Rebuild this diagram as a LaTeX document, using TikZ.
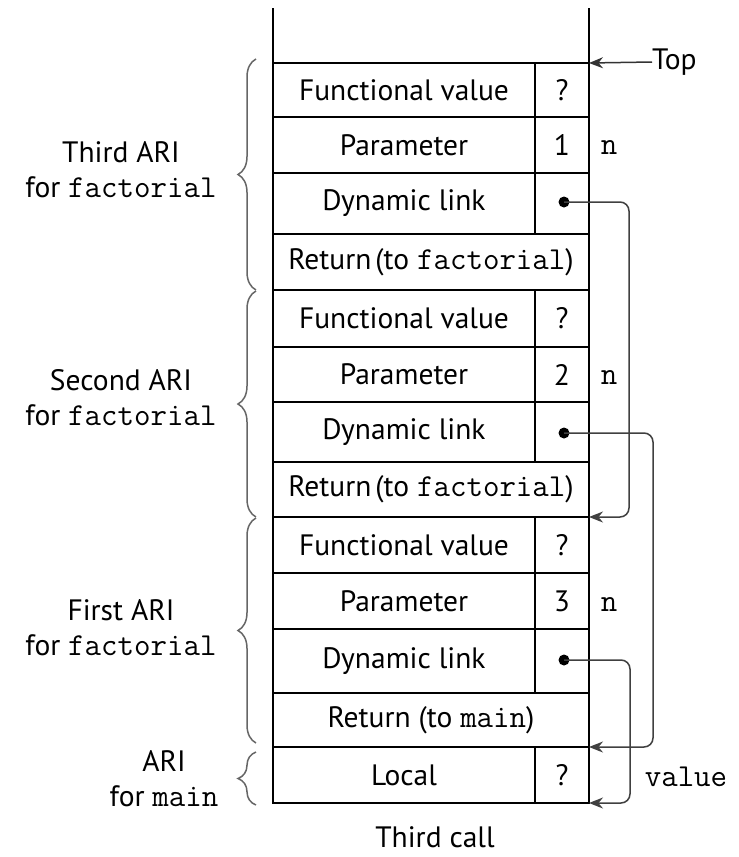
\documentclass[tikz,border=0pt]{standalone}
\usepackage{fontspec}
\setmainfont{PT Sans}
\usetikzlibrary{arrows.meta,decorations.pathreplacing}
\newcommand{\codetxt}[1]{{\fontsize{32}{35}\selectfont\ttfamily #1}}
\begin{document}
\begin{tikzpicture}[x=1pt,y=-1pt,
  font=\fontsize{29.5}{35}\selectfont,
  stackline/.style={line width=1.7pt},
  cell/.style={draw, line width=1.7pt, anchor=north west, inner sep=0pt, outer sep=0pt, minimum width=262pt},
  vcell/.style={draw, line width=1.7pt, anchor=north west, inner sep=0pt, outer sep=0pt, minimum width=54pt},
  rcell/.style={draw, line width=1.7pt, anchor=north west, inner sep=0pt, outer sep=0pt, minimum width=316pt},
  dotn/.style={circle, fill=black, inner sep=0pt, minimum size=11pt},
  link/.style={draw=black!75, line width=1.5pt, rounded corners=9pt, -{Stealth[length=14pt,width=11pt]}},
  brc/.style={draw=black!60, line width=1.5pt, decorate, decoration={brace, amplitude=18pt, aspect=0.5}},
  lbl/.style={align=center, inner sep=0pt}
]
\useasboundingbox (0,0) rectangle (739,857);

% Third ARI
\node[cell, minimum height=54pt] (f3) at (273,63) {Functional value};
\node[vcell, minimum height=54pt] (f3v) at (535,63) {?};
\node[cell, minimum height=56pt] (p3) at (273,117) {Parameter};
\node[vcell, minimum height=56pt] (p3v) at (535,117) {1};
\node[cell, minimum height=61pt] (d3) at (273,173) {Dynamic link};
\node[vcell, minimum height=61pt] (d3v) at (535,173) {};
\node[rcell, minimum height=56pt] (r3) at (273,234) {Return\hspace{4pt}(to \codetxt{factorial})};
% Second ARI
\node[cell, minimum height=57pt] (f2) at (273,290) {Functional value};
\node[vcell, minimum height=57pt] (f2v) at (535,290) {?};
\node[cell, minimum height=55pt] (p2) at (273,347) {Parameter};
\node[vcell, minimum height=55pt] (p2v) at (535,347) {2};
\node[cell, minimum height=60pt] (d2) at (273,402) {Dynamic link};
\node[vcell, minimum height=60pt] (d2v) at (535,402) {};
\node[rcell, minimum height=55pt] (r2) at (273,462) {Return\hspace{4pt}(to \codetxt{factorial})};
% First ARI
\node[cell, minimum height=56pt] (f1) at (273,517) {Functional value};
\node[vcell, minimum height=56pt] (f1v) at (535,517) {?};
\node[cell, minimum height=56pt] (p1) at (273,573) {Parameter};
\node[vcell, minimum height=56pt] (p1v) at (535,573) {3};
\node[cell, minimum height=64pt] (d1) at (273,629) {Dynamic link};
\node[vcell, minimum height=64pt] (d1v) at (535,629) {};
\node[rcell, minimum height=54pt] (r1) at (273,693) {Return (to \codetxt{main})};
% main
\node[cell, minimum height=56pt] (loc) at (273,747) {Local};
\node[vcell, minimum height=56pt] (locv) at (535,747) {?};

% open top of stack
\coordinate (tl) at (273,8);
\coordinate (tr) at (589,8);
\draw[stackline] (tl) -- (f3.north west);
\draw[stackline] (tr) -- (f3v.north east);

% dots
\node[dotn] (dot3) at (564,202) {};
\node[dotn] (dot2) at (564,433) {};
\node[dotn] (dot1) at (564,660) {};

% dynamic links
\draw[link] (dot3.center) -- ++(65,0) |- (r2.south east);
\draw[link] (dot2.center) -- ++(89,0) |- (r1.south east);
\draw[link] (dot1.center) -- ++(66,0) |- (locv.south east);

% Top
\node[anchor=west, inner sep=0pt] (top) at (652,62) {Top};
\draw[draw=black!80, line width=1.5pt, -{Stealth[length=14pt,width=11pt]}] (top.west) -- (f3v.north east);

% n labels
\node[inner sep=0pt] (n3) at (609,148) {\codetxt{n}};
\node[inner sep=0pt] (n2) at (609,378) {\codetxt{n}};
\node[inner sep=0pt] (n1) at (609,604) {\codetxt{n}};
\node[inner sep=0pt] (val) at (686,777) {\codetxt{value}};

% braces
\coordinate (b3a) at (256,290); \coordinate (b3b) at (256,59);
\coordinate (b2a) at (256,517); \coordinate (b2b) at (256,291);
\coordinate (b1a) at (256,743); \coordinate (b1b) at (256,518);
\coordinate (bma) at (256,805); \coordinate (bmb) at (256,752);
\draw[brc] (b3a) -- (b3b);
\draw[brc] (b2a) -- (b2b);
\draw[brc] (b1a) -- (b1b);
\draw[brc] (bma) -- (bmb);

% ARI labels
\node[lbl] (l3) at (121,170) {Third ARI\\for \codetxt{factorial}};
\node[lbl] (l2) at (121,398) {Second ARI\\for \codetxt{factorial}};
\node[lbl] (l1) at (121,628) {First ARI\\for \codetxt{factorial}};
\node[lbl] (lm) at (164,779) {ARI\\for \codetxt{main}};

% caption
\node[inner sep=0pt] (cap) at (435,837) {Third call};
\end{tikzpicture}
\end{document}
